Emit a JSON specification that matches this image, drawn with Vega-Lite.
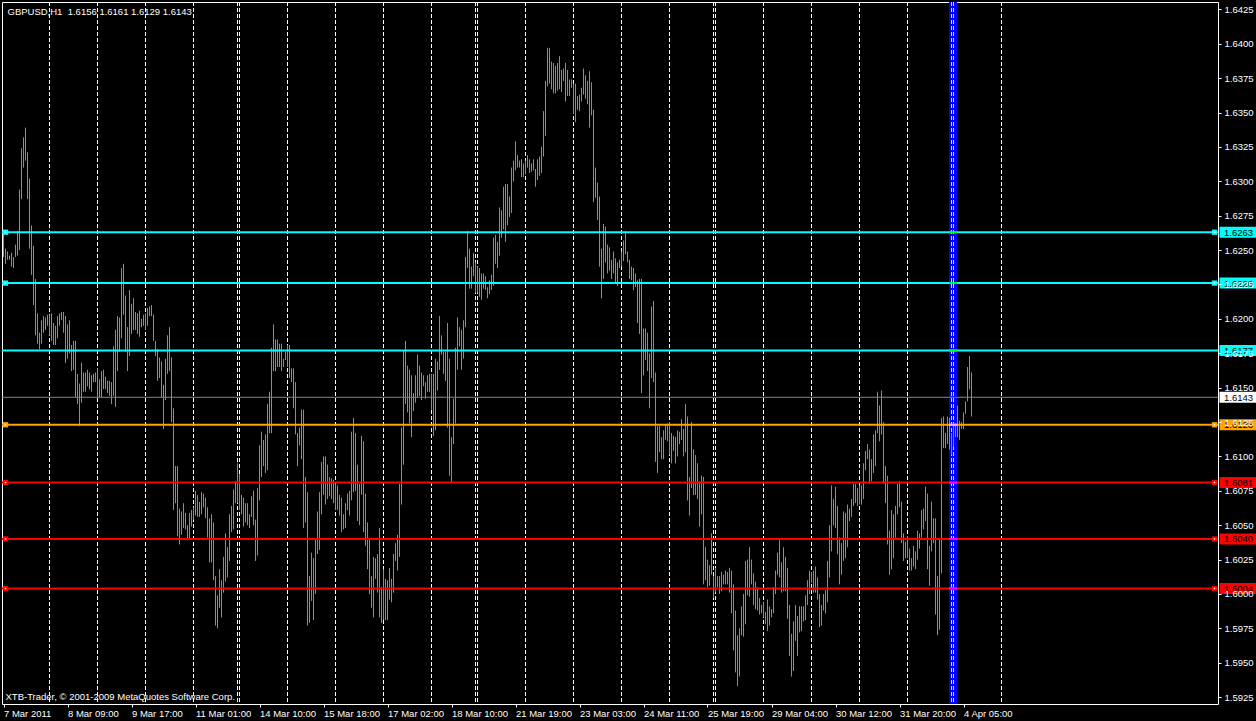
{
"$schema": "https://vega.github.io/schema/vega-lite/v6.json",
"width": 1216, "height": 702,
"autosize": {"type": "none"},
"padding": {"left": 2, "top": 2, "right": 38, "bottom": 17},
"background": "#000000",
"config": {"view": {"stroke": "#FFFFFF", "strokeWidth": 1, "fill": "#000000"}, "font": "Liberation Sans",
 "axis": {"labelOverlap": false, "labelFlush": false, "labelBound": false, "labelSeparation": 0}},
"datasets": {
"vline": [{"bar": 474.75}],
"grid": [{"g":23},{"g":47},{"g":71},{"g":95},{"g":117},{"g":118},{"g":142},{"g":166},{"g":190},{"g":214},{"g":236},{"g":237},{"g":261},{"g":285},{"g":309},{"g":333},{"g":355},{"g":356},{"g":380},{"g":404},{"g":428},{"g":452},{"g":474},{"g":475},{"g":499}],
"levels": [
{"price":1.6263,"label":"1.6263","kind":"resistance"},
{"price":1.6226,"label":"1.6226","kind":"resistance"},
{"price":1.6177,"label":"1.6177","kind":"resistance"},
{"price":1.6143,"label":"1.6143","kind":"bid"},
{"price":1.6123,"label":"1.6123","kind":"pivot"},
{"price":1.6081,"label":"1.6081","kind":"support"},
{"price":1.6040,"label":"1.6040","kind":"support"},
{"price":1.6004,"label":"1.6004","kind":"support"}],
"bars": [
{"i":0,"h":1.6262,"l":1.6245},{"i":1,"h":1.6251,"l":1.6240},{"i":2,"h":1.6249,"l":1.6243},{"i":3,"h":1.6246,"l":1.6243},{"i":4,"h":1.6248,"l":1.6238},
{"i":5,"h":1.6245,"l":1.6237},{"i":6,"h":1.6254,"l":1.6245},{"i":7,"h":1.6264,"l":1.6246},{"i":8,"h":1.6294,"l":1.6250},{"i":9,"h":1.6324,"l":1.6287},
{"i":10,"h":1.6332,"l":1.6310},{"i":11,"h":1.6339,"l":1.6315},{"i":12,"h":1.6321,"l":1.6287},{"i":13,"h":1.6302,"l":1.6251},{"i":14,"h":1.6268,"l":1.6232},
{"i":15,"h":1.6253,"l":1.6210},{"i":16,"h":1.6229,"l":1.6188},{"i":17,"h":1.6204,"l":1.6182},{"i":18,"h":1.6190,"l":1.6178},{"i":19,"h":1.6199,"l":1.6182},
{"i":20,"h":1.6202,"l":1.6190},{"i":21,"h":1.6201,"l":1.6192},{"i":22,"h":1.6203,"l":1.6195},{"i":23,"h":1.6203,"l":1.6188},{"i":24,"h":1.6204,"l":1.6184},
{"i":25,"h":1.6197,"l":1.6181},{"i":26,"h":1.6195,"l":1.6181},{"i":27,"h":1.6202,"l":1.6186},{"i":28,"h":1.6204,"l":1.6195},{"i":29,"h":1.6205,"l":1.6199},
{"i":30,"h":1.6205,"l":1.6190},{"i":31,"h":1.6202,"l":1.6168},{"i":32,"h":1.6196,"l":1.6171},{"i":33,"h":1.6199,"l":1.6175},{"i":34,"h":1.6181,"l":1.6162},
{"i":35,"h":1.6184,"l":1.6163},{"i":36,"h":1.6184,"l":1.6143},{"i":37,"h":1.6160,"l":1.6138},{"i":38,"h":1.6153,"l":1.6122},{"i":39,"h":1.6168,"l":1.6139},
{"i":40,"h":1.6161,"l":1.6147},{"i":41,"h":1.6161,"l":1.6147},{"i":42,"h":1.6163,"l":1.6151},{"i":43,"h":1.6161,"l":1.6149},{"i":44,"h":1.6159,"l":1.6147},
{"i":45,"h":1.6160,"l":1.6154},{"i":46,"h":1.6161,"l":1.6154},{"i":47,"h":1.6164,"l":1.6143},{"i":48,"h":1.6156,"l":1.6143},{"i":49,"h":1.6162,"l":1.6143},
{"i":50,"h":1.6163,"l":1.6149},{"i":51,"h":1.6158,"l":1.6149},{"i":52,"h":1.6155,"l":1.6146},{"i":53,"h":1.6155,"l":1.6144},{"i":54,"h":1.6154,"l":1.6138},
{"i":55,"h":1.6180,"l":1.6144},{"i":56,"h":1.6192,"l":1.6136},{"i":57,"h":1.6202,"l":1.6162},{"i":58,"h":1.6201,"l":1.6176},{"i":59,"h":1.6237,"l":1.6186},
{"i":60,"h":1.6240,"l":1.6203},{"i":61,"h":1.6217,"l":1.6176},{"i":62,"h":1.6194,"l":1.6162},{"i":63,"h":1.6221,"l":1.6173},{"i":64,"h":1.6211,"l":1.6189},
{"i":65,"h":1.6215,"l":1.6192},{"i":66,"h":1.6205,"l":1.6192},{"i":67,"h":1.6204,"l":1.6189},{"i":68,"h":1.6206,"l":1.6187},{"i":69,"h":1.6200,"l":1.6194},
{"i":70,"h":1.6203,"l":1.6195},{"i":71,"h":1.6204,"l":1.6192},{"i":72,"h":1.6208,"l":1.6195},{"i":73,"h":1.6209,"l":1.6202},{"i":74,"h":1.6210,"l":1.6202},
{"i":75,"h":1.6203,"l":1.6184},{"i":76,"h":1.6184,"l":1.6173},{"i":77,"h":1.6178,"l":1.6155},{"i":78,"h":1.6172,"l":1.6157},{"i":79,"h":1.6169,"l":1.6143},
{"i":80,"h":1.6152,"l":1.6120},{"i":81,"h":1.6171,"l":1.6141},{"i":82,"h":1.6188,"l":1.6160},{"i":83,"h":1.6194,"l":1.6162},{"i":84,"h":1.6172,"l":1.6125},
{"i":85,"h":1.6135,"l":1.6061},{"i":86,"h":1.6093,"l":1.6066},{"i":87,"h":1.6093,"l":1.6042},{"i":88,"h":1.6062,"l":1.6036},{"i":89,"h":1.6060,"l":1.6043},
{"i":90,"h":1.6066,"l":1.6048},{"i":91,"h":1.6059,"l":1.6047},{"i":92,"h":1.6050,"l":1.6039},{"i":93,"h":1.6059,"l":1.6040},{"i":94,"h":1.6061,"l":1.6049},
{"i":95,"h":1.6063,"l":1.6054},{"i":96,"h":1.6075,"l":1.6057},{"i":97,"h":1.6072,"l":1.6056},{"i":98,"h":1.6067,"l":1.6056},{"i":99,"h":1.6074,"l":1.6058},
{"i":100,"h":1.6073,"l":1.6063},{"i":101,"h":1.6070,"l":1.6055},{"i":102,"h":1.6063,"l":1.6041},{"i":103,"h":1.6055,"l":1.6023},{"i":104,"h":1.6058,"l":1.6023},
{"i":105,"h":1.6052,"l":1.6010},{"i":106,"h":1.6013,"l":1.5977},{"i":107,"h":1.5999,"l":1.5975},{"i":108,"h":1.6018,"l":1.5990},{"i":109,"h":1.6010,"l":1.5983},
{"i":110,"h":1.6027,"l":1.6001},{"i":111,"h":1.6044,"l":1.6009},{"i":112,"h":1.6034,"l":1.6012},{"i":113,"h":1.6058,"l":1.6024},{"i":114,"h":1.6064,"l":1.6045},
{"i":115,"h":1.6076,"l":1.6047},{"i":116,"h":1.6082,"l":1.6066},{"i":117,"h":1.6095,"l":1.6066},{"i":118,"h":1.6087,"l":1.6061},{"i":119,"h":1.6072,"l":1.6058},
{"i":120,"h":1.6070,"l":1.6049},{"i":121,"h":1.6066,"l":1.6052},{"i":122,"h":1.6066,"l":1.6050},{"i":123,"h":1.6058,"l":1.6048},{"i":124,"h":1.6071,"l":1.6056},
{"i":125,"h":1.6075,"l":1.6050},{"i":126,"h":1.6054,"l":1.6024},{"i":127,"h":1.6077,"l":1.6028},{"i":128,"h":1.6108,"l":1.6068},{"i":129,"h":1.6118,"l":1.6085},
{"i":130,"h":1.6112,"l":1.6093},{"i":131,"h":1.6116,"l":1.6088},{"i":132,"h":1.6138,"l":1.6090},{"i":133,"h":1.6147,"l":1.6117},{"i":134,"h":1.6179,"l":1.6117},
{"i":135,"h":1.6196,"l":1.6162},{"i":136,"h":1.6185,"l":1.6162},{"i":137,"h":1.6185,"l":1.6165},{"i":138,"h":1.6182,"l":1.6165},{"i":139,"h":1.6182,"l":1.6162},
{"i":140,"h":1.6171,"l":1.6165},{"i":141,"h":1.6176,"l":1.6170},{"i":142,"h":1.6181,"l":1.6165},{"i":143,"h":1.6181,"l":1.6157},{"i":144,"h":1.6164,"l":1.6154},
{"i":145,"h":1.6164,"l":1.6135},{"i":146,"h":1.6154,"l":1.6116},{"i":147,"h":1.6117,"l":1.6093},{"i":148,"h":1.6121,"l":1.6108},{"i":149,"h":1.6134,"l":1.6098},
{"i":150,"h":1.6134,"l":1.6048},{"i":151,"h":1.6085,"l":1.6052},{"i":152,"h":1.6074,"l":1.5977},{"i":153,"h":1.6013,"l":1.5979},{"i":154,"h":1.6030,"l":1.5995},
{"i":155,"h":1.6026,"l":1.5981},{"i":156,"h":1.6040,"l":1.6000},{"i":157,"h":1.6060,"l":1.6029},{"i":158,"h":1.6074,"l":1.6032},{"i":159,"h":1.6096,"l":1.6058},
{"i":160,"h":1.6100,"l":1.6072},{"i":161,"h":1.6100,"l":1.6065},{"i":162,"h":1.6094,"l":1.6069},{"i":163,"h":1.6085,"l":1.6071},{"i":164,"h":1.6084,"l":1.6069},
{"i":165,"h":1.6083,"l":1.6066},{"i":166,"h":1.6080,"l":1.6061},{"i":167,"h":1.6079,"l":1.6061},{"i":168,"h":1.6072,"l":1.6057},{"i":169,"h":1.6070,"l":1.6045},
{"i":170,"h":1.6058,"l":1.6047},{"i":171,"h":1.6066,"l":1.6048},{"i":172,"h":1.6073,"l":1.6061},{"i":173,"h":1.6075,"l":1.6057},{"i":174,"h":1.6118,"l":1.6068},
{"i":175,"h":1.6128,"l":1.6074},{"i":176,"h":1.6117,"l":1.6075},{"i":177,"h":1.6094,"l":1.6053},{"i":178,"h":1.6080,"l":1.6050},{"i":179,"h":1.6115,"l":1.6072},
{"i":180,"h":1.6111,"l":1.6045},{"i":181,"h":1.6073,"l":1.6035},{"i":182,"h":1.6052,"l":1.6018},{"i":183,"h":1.6040,"l":1.6000},{"i":184,"h":1.6013,"l":1.5990},
{"i":185,"h":1.6027,"l":1.5983},{"i":186,"h":1.6026,"l":1.6011},{"i":187,"h":1.6029,"l":1.6001},{"i":188,"h":1.6048,"l":1.5983},{"i":189,"h":1.6005,"l":1.5979},
{"i":190,"h":1.6018,"l":1.5981},{"i":191,"h":1.6011,"l":1.5981},{"i":192,"h":1.6010,"l":1.5981},{"i":193,"h":1.6019,"l":1.5996},{"i":194,"h":1.6011,"l":1.5994},
{"i":195,"h":1.6029,"l":1.6001},{"i":196,"h":1.6037,"l":1.6024},{"i":197,"h":1.6043,"l":1.6017},{"i":198,"h":1.6080,"l":1.6027},{"i":199,"h":1.6121,"l":1.6065},
{"i":200,"h":1.6177,"l":1.6094},{"i":201,"h":1.6184,"l":1.6138},{"i":202,"h":1.6166,"l":1.6132},{"i":203,"h":1.6163,"l":1.6124},{"i":204,"h":1.6159,"l":1.6114},
{"i":205,"h":1.6146,"l":1.6133},{"i":206,"h":1.6159,"l":1.6139},{"i":207,"h":1.6174,"l":1.6143},{"i":208,"h":1.6166,"l":1.6144},{"i":209,"h":1.6161,"l":1.6141},
{"i":210,"h":1.6159,"l":1.6151},{"i":211,"h":1.6154,"l":1.6142},{"i":212,"h":1.6159,"l":1.6147},{"i":213,"h":1.6160,"l":1.6147},{"i":214,"h":1.6160,"l":1.6134},
{"i":215,"h":1.6160,"l":1.6115},{"i":216,"h":1.6171,"l":1.6119},{"i":217,"h":1.6169,"l":1.6148},{"i":218,"h":1.6202,"l":1.6163},{"i":219,"h":1.6188,"l":1.6174},
{"i":220,"h":1.6176,"l":1.6160},{"i":221,"h":1.6176,"l":1.6155},{"i":222,"h":1.6197,"l":1.6121},{"i":223,"h":1.6171,"l":1.6086},{"i":224,"h":1.6114,"l":1.6081},
{"i":225,"h":1.6142,"l":1.6109},{"i":226,"h":1.6179,"l":1.6124},{"i":227,"h":1.6201,"l":1.6163},{"i":228,"h":1.6194,"l":1.6180},{"i":229,"h":1.6192,"l":1.6163},
{"i":230,"h":1.6199,"l":1.6171},{"i":231,"h":1.6245,"l":1.6194},{"i":232,"h":1.6264,"l":1.6237},{"i":233,"h":1.6251,"l":1.6222},{"i":234,"h":1.6238,"l":1.6222},
{"i":235,"h":1.6248,"l":1.6231},{"i":236,"h":1.6241,"l":1.6219},{"i":237,"h":1.6238,"l":1.6219},{"i":238,"h":1.6237,"l":1.6216},{"i":239,"h":1.6233,"l":1.6214},
{"i":240,"h":1.6233,"l":1.6222},{"i":241,"h":1.6231,"l":1.6221},{"i":242,"h":1.6223,"l":1.6215},{"i":243,"h":1.6228,"l":1.6218},{"i":244,"h":1.6232,"l":1.6221},
{"i":245,"h":1.6259,"l":1.6224},{"i":246,"h":1.6261,"l":1.6240},{"i":247,"h":1.6256,"l":1.6237},{"i":248,"h":1.6281,"l":1.6246},{"i":249,"h":1.6279,"l":1.6259},
{"i":250,"h":1.6296,"l":1.6265},{"i":251,"h":1.6298,"l":1.6256},{"i":252,"h":1.6298,"l":1.6268},{"i":253,"h":1.6289,"l":1.6274},{"i":254,"h":1.6310,"l":1.6277},
{"i":255,"h":1.6315,"l":1.6300},{"i":256,"h":1.6329,"l":1.6308},{"i":257,"h":1.6319,"l":1.6310},{"i":258,"h":1.6315,"l":1.6310},{"i":259,"h":1.6316,"l":1.6303},
{"i":260,"h":1.6313,"l":1.6303},{"i":261,"h":1.6315,"l":1.6305},{"i":262,"h":1.6319,"l":1.6310},{"i":263,"h":1.6316,"l":1.6306},{"i":264,"h":1.6313,"l":1.6307},
{"i":265,"h":1.6316,"l":1.6308},{"i":266,"h":1.6309,"l":1.6296},{"i":267,"h":1.6316,"l":1.6301},{"i":268,"h":1.6318,"l":1.6304},{"i":269,"h":1.6325,"l":1.6306},
{"i":270,"h":1.6351,"l":1.6318},{"i":271,"h":1.6373,"l":1.6333},{"i":272,"h":1.6397,"l":1.6369},{"i":273,"h":1.6397,"l":1.6371},{"i":274,"h":1.6387,"l":1.6367},
{"i":275,"h":1.6386,"l":1.6364},{"i":276,"h":1.6384,"l":1.6364},{"i":277,"h":1.6386,"l":1.6366},{"i":278,"h":1.6391,"l":1.6367},{"i":279,"h":1.6381,"l":1.6365},
{"i":280,"h":1.6382,"l":1.6373},{"i":281,"h":1.6386,"l":1.6358},{"i":282,"h":1.6381,"l":1.6362},{"i":283,"h":1.6374,"l":1.6362},{"i":284,"h":1.6374,"l":1.6368},
{"i":285,"h":1.6371,"l":1.6349},{"i":286,"h":1.6371,"l":1.6343},{"i":287,"h":1.6362,"l":1.6352},{"i":288,"h":1.6363,"l":1.6351},{"i":289,"h":1.6368,"l":1.6358},
{"i":290,"h":1.6382,"l":1.6363},{"i":291,"h":1.6377,"l":1.6360},{"i":292,"h":1.6373,"l":1.6356},{"i":293,"h":1.6380,"l":1.6339},{"i":294,"h":1.6372,"l":1.6348},
{"i":295,"h":1.6352,"l":1.6285},{"i":296,"h":1.6310,"l":1.6288},{"i":297,"h":1.6299,"l":1.6272},{"i":298,"h":1.6289,"l":1.6238},{"i":299,"h":1.6251,"l":1.6215},
{"i":300,"h":1.6269,"l":1.6229},{"i":301,"h":1.6267,"l":1.6241},{"i":302,"h":1.6254,"l":1.6233},{"i":303,"h":1.6252,"l":1.6235},{"i":304,"h":1.6243,"l":1.6229},
{"i":305,"h":1.6249,"l":1.6233},{"i":306,"h":1.6244,"l":1.6226},{"i":307,"h":1.6241,"l":1.6224},{"i":308,"h":1.6243,"l":1.6237},{"i":309,"h":1.6249,"l":1.6238},
{"i":310,"h":1.6257,"l":1.6242},{"i":311,"h":1.6264,"l":1.6247},{"i":312,"h":1.6249,"l":1.6241},{"i":313,"h":1.6243,"l":1.6229},{"i":314,"h":1.6238,"l":1.6228},
{"i":315,"h":1.6237,"l":1.6221},{"i":316,"h":1.6233,"l":1.6223},{"i":317,"h":1.6228,"l":1.6197},{"i":318,"h":1.6229,"l":1.6189},{"i":319,"h":1.6229,"l":1.6146},
{"i":320,"h":1.6193,"l":1.6159},{"i":321,"h":1.6193,"l":1.6170},{"i":322,"h":1.6190,"l":1.6162},{"i":323,"h":1.6175,"l":1.6135},{"i":324,"h":1.6209,"l":1.6157},
{"i":325,"h":1.6213,"l":1.6154},{"i":326,"h":1.6161,"l":1.6096},{"i":327,"h":1.6122,"l":1.6088},{"i":328,"h":1.6122,"l":1.6103},{"i":329,"h":1.6114,"l":1.6098},
{"i":330,"h":1.6119,"l":1.6098},{"i":331,"h":1.6123,"l":1.6112},{"i":332,"h":1.6124,"l":1.6111},{"i":333,"h":1.6125,"l":1.6101},{"i":334,"h":1.6117,"l":1.6095},
{"i":335,"h":1.6115,"l":1.6104},{"i":336,"h":1.6114,"l":1.6095},{"i":337,"h":1.6119,"l":1.6100},{"i":338,"h":1.6118,"l":1.6109},{"i":339,"h":1.6127,"l":1.6112},
{"i":340,"h":1.6120,"l":1.6100},{"i":341,"h":1.6138,"l":1.6103},{"i":342,"h":1.6129,"l":1.6068},{"i":343,"h":1.6085,"l":1.6057},{"i":344,"h":1.6125,"l":1.6077},
{"i":345,"h":1.6105,"l":1.6072},{"i":346,"h":1.6101,"l":1.6072},{"i":347,"h":1.6095,"l":1.6069},{"i":348,"h":1.6082,"l":1.6049},{"i":349,"h":1.6086,"l":1.6058},
{"i":350,"h":1.6085,"l":1.6007},{"i":351,"h":1.6034,"l":1.6010},{"i":352,"h":1.6025,"l":1.6005},{"i":353,"h":1.6021,"l":1.6006},{"i":354,"h":1.6044,"l":1.6014},
{"i":355,"h":1.6013,"l":1.5997},{"i":356,"h":1.6019,"l":1.6001},{"i":357,"h":1.6013,"l":1.6005},{"i":358,"h":1.6013,"l":1.6000},{"i":359,"h":1.6016,"l":1.6002},
{"i":360,"h":1.6014,"l":1.6007},{"i":361,"h":1.6017,"l":1.6007},{"i":362,"h":1.6016,"l":1.6007},{"i":363,"h":1.6019,"l":1.6001},{"i":364,"h":1.6017,"l":1.5986},
{"i":365,"h":1.6007,"l":1.5959},{"i":366,"h":1.5988,"l":1.5943},{"i":367,"h":1.5970,"l":1.5933},{"i":368,"h":1.5975,"l":1.5940},{"i":369,"h":1.5991,"l":1.5970},
{"i":370,"h":1.6000,"l":1.5969},{"i":371,"h":1.6024,"l":1.5978},{"i":372,"h":1.6025,"l":1.5999},{"i":373,"h":1.6034,"l":1.5998},{"i":374,"h":1.6025,"l":1.6007},
{"i":375,"h":1.6015,"l":1.5992},{"i":376,"h":1.6009,"l":1.5989},{"i":377,"h":1.6005,"l":1.5988},{"i":378,"h":1.5997,"l":1.5985},{"i":379,"h":1.5992,"l":1.5986},
{"i":380,"h":1.5994,"l":1.5983},{"i":381,"h":1.5987,"l":1.5978},{"i":382,"h":1.5996,"l":1.5973},{"i":383,"h":1.5991,"l":1.5977},{"i":384,"h":1.5989,"l":1.5983},
{"i":385,"h":1.6005,"l":1.5986},{"i":386,"h":1.6017,"l":1.6000},{"i":387,"h":1.6030,"l":1.6014},{"i":388,"h":1.6039,"l":1.6012},{"i":389,"h":1.6023,"l":1.6001},
{"i":390,"h":1.6034,"l":1.6002},{"i":391,"h":1.6027,"l":1.6002},{"i":392,"h":1.6019,"l":1.5982},{"i":393,"h":1.5992,"l":1.5955},{"i":394,"h":1.5971,"l":1.5940},
{"i":395,"h":1.5980,"l":1.5944},{"i":396,"h":1.5992,"l":1.5966},{"i":397,"h":1.5984,"l":1.5955},{"i":398,"h":1.5991,"l":1.5972},{"i":399,"h":1.5991,"l":1.5973},
{"i":400,"h":1.5991,"l":1.5980},{"i":401,"h":1.5999,"l":1.5981},{"i":402,"h":1.6010,"l":1.5992},{"i":403,"h":1.6017,"l":1.6000},{"i":404,"h":1.6016,"l":1.6008},
{"i":405,"h":1.6017,"l":1.6001},{"i":406,"h":1.6020,"l":1.6001},{"i":407,"h":1.6012,"l":1.5996},{"i":408,"h":1.6000,"l":1.5976},{"i":409,"h":1.5992,"l":1.5977},
{"i":410,"h":1.6000,"l":1.5988},{"i":411,"h":1.6003,"l":1.5986},{"i":412,"h":1.6024,"l":1.5994},{"i":413,"h":1.6050,"l":1.6012},{"i":414,"h":1.6079,"l":1.6031},
{"i":415,"h":1.6069,"l":1.6050},{"i":416,"h":1.6078,"l":1.6048},{"i":417,"h":1.6064,"l":1.6029},{"i":418,"h":1.6041,"l":1.6007},{"i":419,"h":1.6037,"l":1.6014},
{"i":420,"h":1.6060,"l":1.6024},{"i":421,"h":1.6059,"l":1.6026},{"i":422,"h":1.6065,"l":1.6034},{"i":423,"h":1.6062,"l":1.6053},{"i":424,"h":1.6069,"l":1.6056},
{"i":425,"h":1.6080,"l":1.6064},{"i":426,"h":1.6080,"l":1.6066},{"i":427,"h":1.6077,"l":1.6064},{"i":428,"h":1.6079,"l":1.6065},{"i":429,"h":1.6079,"l":1.6065},
{"i":430,"h":1.6095,"l":1.6069},{"i":431,"h":1.6104,"l":1.6090},{"i":432,"h":1.6109,"l":1.6098},{"i":433,"h":1.6105,"l":1.6080},{"i":434,"h":1.6098,"l":1.6082},
{"i":435,"h":1.6116,"l":1.6088},{"i":436,"h":1.6119,"l":1.6093},{"i":437,"h":1.6147,"l":1.6117},{"i":438,"h":1.6137,"l":1.6111},{"i":439,"h":1.6148,"l":1.6116},
{"i":440,"h":1.6125,"l":1.6080},{"i":441,"h":1.6093,"l":1.6066},{"i":442,"h":1.6086,"l":1.6036},{"i":443,"h":1.6046,"l":1.6014},{"i":444,"h":1.6061,"l":1.6018},
{"i":445,"h":1.6058,"l":1.6026},{"i":446,"h":1.6064,"l":1.6041},{"i":447,"h":1.6080,"l":1.6058},{"i":448,"h":1.6082,"l":1.6063},{"i":449,"h":1.6067,"l":1.6037},
{"i":450,"h":1.6044,"l":1.6024},{"i":451,"h":1.6038,"l":1.6026},{"i":452,"h":1.6042,"l":1.6026},{"i":453,"h":1.6033,"l":1.6017},{"i":454,"h":1.6026,"l":1.6017},
{"i":455,"h":1.6035,"l":1.6020},{"i":456,"h":1.6031,"l":1.6018},{"i":457,"h":1.6046,"l":1.6025},{"i":458,"h":1.6044,"l":1.6033},{"i":459,"h":1.6061,"l":1.6041},
{"i":460,"h":1.6062,"l":1.6047},{"i":461,"h":1.6078,"l":1.6053},{"i":462,"h":1.6073,"l":1.6018},{"i":463,"h":1.6035,"l":1.6006},{"i":464,"h":1.6067,"l":1.6031},
{"i":465,"h":1.6055,"l":1.6037},{"i":466,"h":1.6055,"l":1.5985},{"i":467,"h":1.6013,"l":1.5970},{"i":468,"h":1.6040,"l":1.5974},{"i":469,"h":1.6128,"l":1.6015},
{"i":470,"h":1.6129,"l":1.6106},{"i":471,"h":1.6117,"l":1.6106},{"i":472,"h":1.6129,"l":1.6109},{"i":473,"h":1.6128,"l":1.6105},{"i":474,"h":1.6117,"l":1.6101},
{"i":475,"h":1.6124,"l":1.6107},{"i":476,"h":1.6124,"l":1.6114},{"i":477,"h":1.6137,"l":1.6114},{"i":478,"h":1.6126,"l":1.6112},{"i":479,"h":1.6125,"l":1.6120},
{"i":480,"h":1.6132,"l":1.6120},{"i":481,"h":1.6140,"l":1.6131},{"i":482,"h":1.6165,"l":1.6140},{"i":483,"h":1.6173,"l":1.6149},{"i":484,"h":1.6161,"l":1.6129}
]},
"layer": [
{"data": {"name": "vline"}, "mark": {"type": "rule", "color": "#0000FF", "strokeWidth": 8},
 "encoding": {"x": {"field": "bar", "type": "quantitative", "scale": {"type": "linear", "domain": [-0.75, 607.25], "nice": false, "zero": false}}}},
{"data": {"name": "grid"}, "mark": {"type": "rule", "strokeWidth": 1, "strokeDash": [4, 2]},
 "encoding": {"x": {"field": "g", "type": "quantitative", "scale": {"type": "linear", "domain": [-0.75, 607.25], "nice": false, "zero": false}},
  "color": {"condition": {"test": "datum.g == 474 || datum.g == 475", "value": "#FFFF00"}, "value": "#FFFFFF"}}},
{"data": {"name": "bars"}, "mark": {"type": "rule", "color": "#32CD32", "strokeWidth": 1},
 "encoding": {
  "x": {"field": "i", "type": "quantitative", "scale": {"type": "linear", "domain": [-0.75, 607.25], "nice": false, "zero": false},
   "axis": {"orient": "bottom", "values": [0,32,64,96,128,160,192,224,256,288,320,352,384,416,448,480], "tickCount": 40,
    "labelExpr": "['7 Mar 2011','8 Mar 09:00','9 Mar 17:00','11 Mar 01:00','14 Mar 10:00','15 Mar 18:00','17 Mar 02:00','18 Mar 10:00','21 Mar 19:00','23 Mar 03:00','24 Mar 11:00','25 Mar 19:00','29 Mar 04:00','30 Mar 12:00','31 Mar 20:00','4 Apr 05:00'][round(datum.value/32)]",
    "domain": false, "grid": false, "ticks": true, "tickColor": "#FFFFFF", "tickSize": 3, "tickWidth": 1,
    "labelColor": "#FFFFFF", "labelFont": "Liberation Sans", "labelFontSize": 9.5, "labelAlign": "left", "labelBaseline": "top", "labelPadding": 1, "labelDx": -1,
    "labelFlush": false, "labelOverlap": false, "labelBound": false, "zindex": 1,
    "title": "XTB-Trader, © 2001-2009 MetaQuotes Software Corp.", "titleX": 3, "titleY": -5, "titleAlign": "left", "titleBaseline": "alphabetic", "titleAngle": 0,
    "titleColor": "#FFFFFF", "titleFont": "Liberation Sans", "titleFontSize": 9.5, "titleFontWeight": "normal"}},
  "y": {"field": "l", "type": "quantitative", "scale": {"type": "linear", "domain": [1.592002, 1.643035], "nice": false, "zero": false},
   "axis": {"orient": "right", "values": [1.5925,1.595,1.5975,1.6,1.6025,1.605,1.6075,1.61,1.6125,1.615,1.6175,1.62,1.6225,1.625,1.6275,1.63,1.6325,1.635,1.6375,1.64,1.6425], "tickCount": 50,
    "format": ".4f", "domain": false, "grid": false, "ticks": true, "tickColor": "#FFFFFF", "tickSize": 3, "tickWidth": 1,
    "labelColor": "#FFFFFF", "labelFont": "Liberation Sans", "labelFontSize": 9.5, "labelPadding": 3, "labelFlush": false, "labelOverlap": false, "labelBound": false, "zindex": 1,
    "title": "GBPUSD,H1\u00a0 1.6156 1.6161 1.6129 1.6143", "titleX": -1211, "titleY": 12, "titleAngle": 0, "titleAlign": "left", "titleBaseline": "alphabetic",
    "titleColor": "#FFFFFF", "titleFont": "Liberation Sans", "titleFontSize": 9.5, "titleFontWeight": "normal"}},
  "y2": {"field": "h"}}},
{"data": {"name": "levels"}, "mark": {"type": "rule"},
 "encoding": {
  "y": {"field": "price", "type": "quantitative", "scale": {"type": "linear", "domain": [1.592002, 1.643035], "nice": false, "zero": false}},
  "color": {"field": "kind", "type": "nominal", "scale": {"domain": ["resistance", "pivot", "support", "bid"], "range": ["#00FFFF", "#FFA500", "#FF0000", "#778899"]}, "legend": null},
  "strokeWidth": {"condition": {"test": "datum.kind == 'bid'", "value": 1}, "value": 2}}},
{"data": {"name": "levels"}, "mark": {"type": "rule", "strokeWidth": 2},
 "transform": [{"filter": "datum.kind != 'bid'"}],
 "encoding": {
  "x": {"datum": 472.75, "type": "quantitative", "scale": {"type": "linear", "domain": [-0.75, 607.25], "nice": false, "zero": false}},
  "x2": {"datum": 476.75},
  "y": {"field": "price", "type": "quantitative", "scale": {"type": "linear", "domain": [1.592002, 1.643035], "nice": false, "zero": false}},
  "color": {"condition": [{"test": "datum.kind == 'resistance'", "value": "#00FF00"}, {"test": "datum.kind == 'support'", "value": "#FF00FF"}], "value": "#FFA5FF"}}},
{"data": {"name": "levels"}, "mark": {"type": "point", "shape": "square", "filled": true, "size": 28, "opacity": 1},
 "transform": [{"filter": "datum.kind != 'bid' && datum.label != '1.6177'"}],
 "encoding": {
  "x": {"datum": 1, "type": "quantitative", "scale": {"type": "linear", "domain": [-0.75, 607.25], "nice": false, "zero": false}},
  "y": {"field": "price", "type": "quantitative", "scale": {"type": "linear", "domain": [1.592002, 1.643035], "nice": false, "zero": false}},
  "color": {"field": "kind", "type": "nominal", "legend": null}}},
{"data": {"name": "levels"}, "mark": {"type": "point", "shape": "square", "filled": true, "size": 28, "opacity": 1},
 "transform": [{"filter": "datum.kind != 'bid' && datum.label != '1.6177'"}],
 "encoding": {
  "x": {"datum": 605.5, "type": "quantitative", "scale": {"type": "linear", "domain": [-0.75, 607.25], "nice": false, "zero": false}},
  "y": {"field": "price", "type": "quantitative", "scale": {"type": "linear", "domain": [1.592002, 1.643035], "nice": false, "zero": false}},
  "color": {"field": "kind", "type": "nominal", "legend": null}}},
{"data": {"name": "levels"}, "mark": {"type": "point", "shape": "square", "filled": true, "size": 2, "color": "#FFFFFF", "opacity": 1},
 "transform": [{"filter": "datum.kind != 'bid' && datum.label != '1.6177'"}],
 "encoding": {
  "x": {"datum": 1, "type": "quantitative", "scale": {"type": "linear", "domain": [-0.75, 607.25], "nice": false, "zero": false}},
  "y": {"field": "price", "type": "quantitative", "scale": {"type": "linear", "domain": [1.592002, 1.643035], "nice": false, "zero": false}}}},
{"data": {"name": "levels"}, "mark": {"type": "point", "shape": "square", "filled": true, "size": 2, "color": "#FFFFFF", "opacity": 1},
 "transform": [{"filter": "datum.kind != 'bid' && datum.label != '1.6177'"}],
 "encoding": {
  "x": {"datum": 605.5, "type": "quantitative", "scale": {"type": "linear", "domain": [-0.75, 607.25], "nice": false, "zero": false}},
  "y": {"field": "price", "type": "quantitative", "scale": {"type": "linear", "domain": [1.592002, 1.643035], "nice": false, "zero": false}}}},
{"data": {"name": "levels"}, "mark": {"type": "rule", "strokeWidth": 11, "strokeCap": "butt"},
 "encoding": {
  "x": {"datum": 608, "type": "quantitative", "scale": {"type": "linear", "domain": [-0.75, 607.25], "nice": false, "zero": false}},
  "x2": {"datum": 626.5},
  "y": {"field": "price", "type": "quantitative", "scale": {"type": "linear", "domain": [1.592002, 1.643035], "nice": false, "zero": false}},
  "color": {"condition": {"test": "datum.kind == 'bid'", "value": "#FFFFFF"}, "field": "kind", "type": "nominal", "legend": null}}},
{"data": {"name": "levels"}, "mark": {"type": "text", "align": "left", "baseline": "middle", "font": "Liberation Sans", "fontSize": 9.5, "color": "#000000", "dy": 0.5},
 "encoding": {
  "x": {"datum": 610.25, "type": "quantitative", "scale": {"type": "linear", "domain": [-0.75, 607.25], "nice": false, "zero": false}},
  "y": {"field": "price", "type": "quantitative", "scale": {"type": "linear", "domain": [1.592002, 1.643035], "nice": false, "zero": false}},
  "text": {"field": "label"}}}
]
}
